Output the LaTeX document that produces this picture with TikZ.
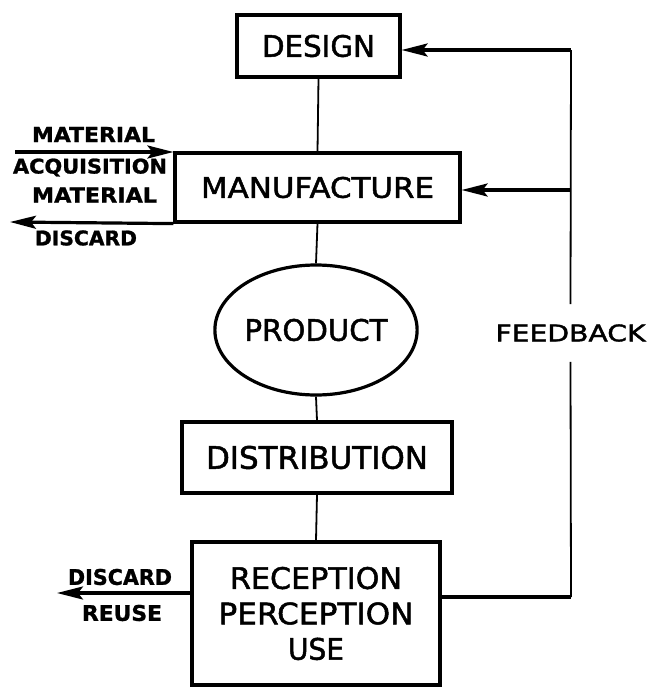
\documentclass[tikz,border=0pt]{standalone}
\usepackage{graphicx}
\usepackage{fontspec}
\setsansfont{DejaVu Sans}
\newfontfamily\leroy[FakeBold=1.6]{DejaVu Sans}
\newfontfamily\leroyheavy[FakeBold=1.2]{DejaVu Sans Bold}
\usetikzlibrary{arrows.meta,shapes.geometric}

% lettering squeezed to a given width and cap height
\newcommand{\fitlabel}[3]{\resizebox{#1pt}{#2pt}{\leroy #3}}
\newcommand{\fitbold}[3]{\resizebox{#1pt}{#2pt}{\leroyheavy #3}}

\tikzset{
  stagebox/.style={draw, line width=3.2pt, inner sep=0pt},
  link/.style={line width=1.8pt},
  flow/.style={line width=3.2pt, -{Stealth[length=26pt,width=13pt,inset=5pt]}},
  tag/.style={inner sep=0pt},
}

\begin{document}
\begin{tikzpicture}[x=1pt,y=-1pt]
\useasboundingbox (0,0) rectangle (648,688);

% main chain
\node[stagebox, minimum width=163pt, minimum height=62pt] (design) at (318.5,46)
  {\fitlabel{113}{22}{DESIGN}};
\node[stagebox, minimum width=285pt, minimum height=69pt] (manuf) at (317.5,187.5)
  {\fitlabel{233}{21}{MANUFACTURE}};
\node[stagebox, ellipse, minimum width=188pt, minimum height=130pt] (product) at (316,330)
  {\fitlabel{143}{22}{PRODUCT}};
\node[stagebox, minimum width=270pt, minimum height=71pt] (distrib) at (317,457.5)
  {\fitlabel{222}{23}{DISTRIBUTION}};
\node[stagebox, minimum width=248pt, minimum height=143pt, align=center] (recep) at (316,613.5)
  {\fitlabel{172}{22}{RECEPTION}\\[12pt]\fitlabel{195}{22}{PERCEPTION}\\[12pt]\fitlabel{56}{22}{USE}};

\draw[link] (design.south) -- (manuf.north);
\draw[link] (manuf.south) -- (product.north);
\draw[link] (product.south) -- (distrib.north);
\draw[link] (distrib.south) -- (recep.north);

% material flows at manufacture
\node[tag] (mat1) at (93.5,134.5) {\fitbold{123}{15}{MATERIAL}};
\node[tag] (acq) at (90,167.5) {\fitbold{154}{15}{ACQUISITION}};
\node[tag] (mat2) at (94.5,195) {\fitbold{125}{15}{MATERIAL}};
\node[tag] (disc1) at (86,238) {\fitbold{102}{15}{DISCARD}};
\coordinate (acqstart) at (15,152);
\coordinate (discend) at (10,222);
\draw[flow] (acqstart) -- (acqstart -| manuf.west);
\draw[flow] (manuf.south west) -- (discend);

% discard / reuse after use
\node[tag] (disc2) at (120,577) {\fitbold{104}{16}{DISCARD}};
\node[tag] (reuse) at (122,613) {\fitbold{80}{16}{REUSE}};
\coordinate (recout) at (57,593);
\draw[flow] (recep.west |- recout) -- (recout);

% feedback loop
\node[tag, inner ysep=20pt] (feedback) at (570.5,333) {\fitlabel{150}{17}{FEEDBACK}};
\coordinate (fbtop) at (571,50);
\coordinate (fbmid) at (571,190);
\coordinate (fbbot) at (571,597);
\draw[line width=3.2pt] (recep.east |- fbbot) -- (fbbot);
\draw[link] (fbbot) -- (feedback.south);
\draw[link] (feedback.north) -- (fbtop);
\draw[flow] (fbtop) -- (design.east |- fbtop);
\draw[flow] (fbmid) -- (manuf.east |- fbmid);
\end{tikzpicture}
\end{document}
